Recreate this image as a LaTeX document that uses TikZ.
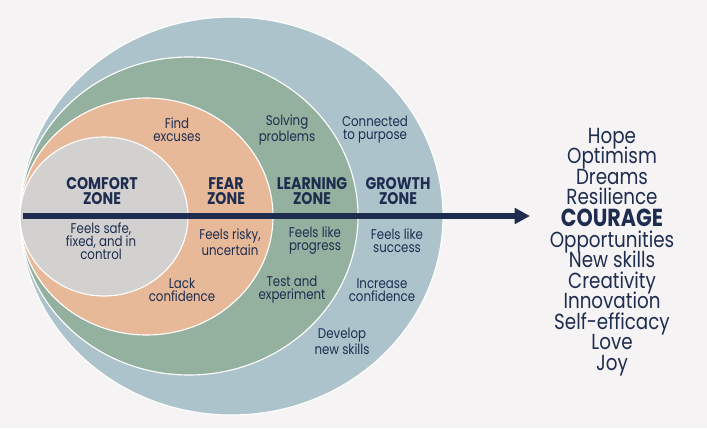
\documentclass[tikz,border=0pt]{standalone}
\usepackage{fontspec}
\setmainfont{Poppins}[FakeStretch=0.84]
\usepackage{tikz}
\usetikzlibrary{arrows.meta}
\usepackage{xcolor}
\definecolor{bgcolor}{RGB}{245, 243, 244}
\definecolor{growthcolor}{RGB}{172, 195, 203}
\definecolor{learncolor}{RGB}{148, 176, 159}
\definecolor{fearcolor}{RGB}{231, 185, 153}
\definecolor{comfortcolor}{RGB}{210, 209, 208}
\definecolor{navy}{RGB}{30, 45, 79}
\tikzset{
    zone/.style={draw=white, line width=0.8pt},
    zonetitle/.style={font=\bfseries\fontsize{12}{11}\selectfont, align=center, text=navy},
    zonenote/.style={font=\fontsize{10}{9.3}\selectfont, align=center, text=navy},
    listword/.style={font=\fontsize{15.5}{15.5}\selectfont, text=navy, anchor=base, inner sep=0pt},
}

\begin{document}
\begin{tikzpicture}[x=0.025cm, y=-0.025cm]
    \fill[bgcolor] (0,0) rectangle (707,428);
    \useasboundingbox (0,0) rectangle (707,428);
    % zones, outermost first
    \filldraw[zone, fill=growthcolor] (231.5,216) ellipse [x radius=211.5, y radius=199];
    \filldraw[zone, fill=learncolor] (189,216) ellipse [x radius=169, y radius=159];
    \filldraw[zone, fill=fearcolor] (146.5,216.5) ellipse [x radius=126.5, y radius=118.5];
    \filldraw[zone, fill=comfortcolor] (104,216.5) ellipse [x radius=84, y radius=79.5];
    % comfort zone
    \node (comforttitle) [zonetitle] at (102,191) {COMFORT\\ZONE};
    \node (comfortfeel) [zonenote] at (101,241) {Feels safe,\\fixed, and in\\control};
    % fear zone
    \node (fearup) [zonenote] at (177,130) {Find\\excuses};
    \node (feartitle) [zonetitle] at (226,191) {FEAR\\ZONE};
    \node (fearfeel) [zonenote] at (230,242) {Feels risky,\\uncertain};
    \node (feardown) [zonenote] at (182,290) {Lack\\confidence};
    % learning zone
    \node (learnup) [zonenote] at (287,130) {Solving\\problems};
    \node (learntitle) [zonetitle] at (312,191) {LEARNING\\ZONE};
    \node (learnfeel) [zonenote] at (315,241) {Feels like\\progress};
    \node (learndown) [zonenote] at (292,290) {Test and\\experiment};
    % growth zone
    \node (growthup) [zonenote] at (375,130) {Connected\\to purpose};
    \node (growthtitle) [zonetitle] at (398,191) {GROWTH\\ZONE};
    \node (growthfeel) [zonenote] at (397,241) {Feels like\\success};
    \node (growthdown) [zonenote] at (382,290) {Increase\\confidence};
    \node (growthskills) [zonenote] at (342,341) {Develop\\new skills};
    % outcomes
    \foreach \word [count=\i] in {Hope, Optimism, Dreams, Resilience,
        {\bfseries\fontsize{17.5}{17.5}\selectfont COURAGE}, Opportunities, New skills,
        Creativity, Innovation, Self-efficacy, Love, Joy}
        \node (word\i) [listword] at (612, {122.5+20.5*\i+1.5*(\i>4)}) {\word};
    \coordinate (arrowstart) at (23,216);
    \coordinate (arrowtip) at (530,216);
    \draw[navy, line width=3.6pt, -{Triangle[length=11pt, width=11pt]}] (arrowstart) -- (arrowtip);
\end{tikzpicture}
\end{document}
